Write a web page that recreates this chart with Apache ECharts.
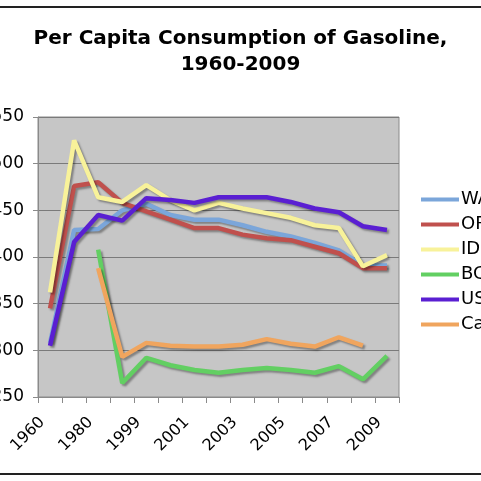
<!DOCTYPE html>
<html>
<head>
<meta charset="utf-8">
<script src="https://cdn.jsdelivr.net/npm/echarts@6/dist/echarts.min.js"></script>
<style>
  html, body { margin: 0; padding: 0; background: #fff; }
  #chart { width: 481px; height: 481px; }
</style>
</head>
<body>
<div id="chart"></div>
<script>
// categories and values
const years = ['1960', '1970', '1980', '1990', '1999', '2000', '2001', '2002', '2003', '2004', '2005', '2006', '2007', '2008', '2009']
const waValues = [308, 429, 430, 450, 457, 445, 440, 440, 434, 427, 422, 415, 407, 391, 391]
const orValues = [345, 476, 480, 458, 449, 440, 431, 431, 424, 420, 418, 411, 404, 388, 388]
const idValues = [362, 525, 464, 459, 477, 461, 450, 458, 452, 447, 442, 434, 431, 390, 402]
const bcValues = [null, null, 408, 265, 292, 284, 279, 276, 279, 281, 279, 276, 283, 269, 294]
const usValues = [305, 416, 445, 439, 463, 461, 458, 464, 464, 464, 459, 452, 448, 433, 429]
const canadaValues = [null, null, 388, 293, 308, 305, 304, 304, 306, 312, 307, 304, 314, 305, null]
const yTicks = [250, 300, 350, 400, 450, 500, 550]

const colors = {
  wa: '#7ba6da',
  or: '#c0504d',
  id: '#f8f29a',
  bc: '#62cf62',
  us: '#5a1fd2',
  canada: '#f0a55e'
}

const font = 'DejaVu Sans, Verdana, sans-serif'

function lineSeries(name, data, color) {
  return {
    name: name,
    type: 'line',
    data: data,
    showSymbol: false,
    symbol: 'none',
    connectNulls: false,
    lineStyle: {
      width: 4.5,
      color: color,
      shadowColor: 'rgba(0, 0, 0, 0.35)',
      shadowBlur: 2,
      shadowOffsetX: 2,
      shadowOffsetY: 2
    },
    itemStyle: { color: color },
    emphasis: { disabled: true }
  }
}

const chart = echarts.init(document.getElementById('chart'))

chart.setOption({
  animation: false,
  title: {
    text: 'Per Capita Consumption of Gasoline,\n1960-2009',
    left: 'center',
    top: 21,
    textStyle: {
      fontFamily: font,
      fontSize: 20,
      fontWeight: 'bold',
      color: '#000',
      lineHeight: 26,
      align: 'center'
    }
  },
  legend: {
    orient: 'vertical',
    left: 416,
    top: 182,
    icon: 'rect',
    itemWidth: 38,
    itemHeight: 4,
    itemGap: 0,
    textStyle: {
      fontFamily: font,
      fontSize: 18,
      color: '#000',
      lineHeight: 25,
      padding: [0, 0, 0, -3]
    },
    data: ['WA', 'OR', 'ID', 'BC', 'US', 'Canada']
  },
  grid: {
    left: 38,
    right: 82,
    top: 117,
    bottom: 84,
    outerBoundsMode: 'none',
    containLabel: false,
    show: true,
    backgroundColor: '#c6c6c6',
    borderColor: '#8a8a8a',
    borderWidth: 1
  },
  xAxis: {
    type: 'category',
    data: years,
    boundaryGap: true,
    axisLine: { lineStyle: { color: '#8a8a8a' } },
    axisTick: { show: true, interval: 0, length: 6, lineStyle: { color: '#8a8a8a' } },
    axisLabel: {
      interval: 1,
      rotate: 45,
      margin: 15,
      padding: [0, 11, 0, 0],
      fontFamily: font,
      fontSize: 16,
      color: '#000'
    }
  },
  yAxis: {
    type: 'value',
    min: yTicks[0],
    max: yTicks[yTicks.length - 1],
    interval: 50,
    axisLine: { show: true, lineStyle: { color: '#8a8a8a' } },
    axisTick: { show: true, length: 5, lineStyle: { color: '#8a8a8a' } },
    axisLabel: {
      margin: 14,
      fontFamily: font,
      fontSize: 17,
      color: '#000'
    },
    splitLine: { lineStyle: { color: '#7a7a7a', width: 1 } }
  },
  graphic: [
    { type: 'line', shape: { x1: 0, y1: 7, x2: 481, y2: 7 }, style: { stroke: '#222', lineWidth: 2 } },
    { type: 'line', shape: { x1: 0, y1: 474, x2: 481, y2: 474 }, style: { stroke: '#222', lineWidth: 2 } }
  ],
  series: [
    lineSeries('WA', waValues, colors.wa),
    lineSeries('OR', orValues, colors.or),
    lineSeries('ID', idValues, colors.id),
    lineSeries('BC', bcValues, colors.bc),
    lineSeries('US', usValues, colors.us),
    lineSeries('Canada', canadaValues, colors.canada)
  ]
})
</script>
</body>
</html>
